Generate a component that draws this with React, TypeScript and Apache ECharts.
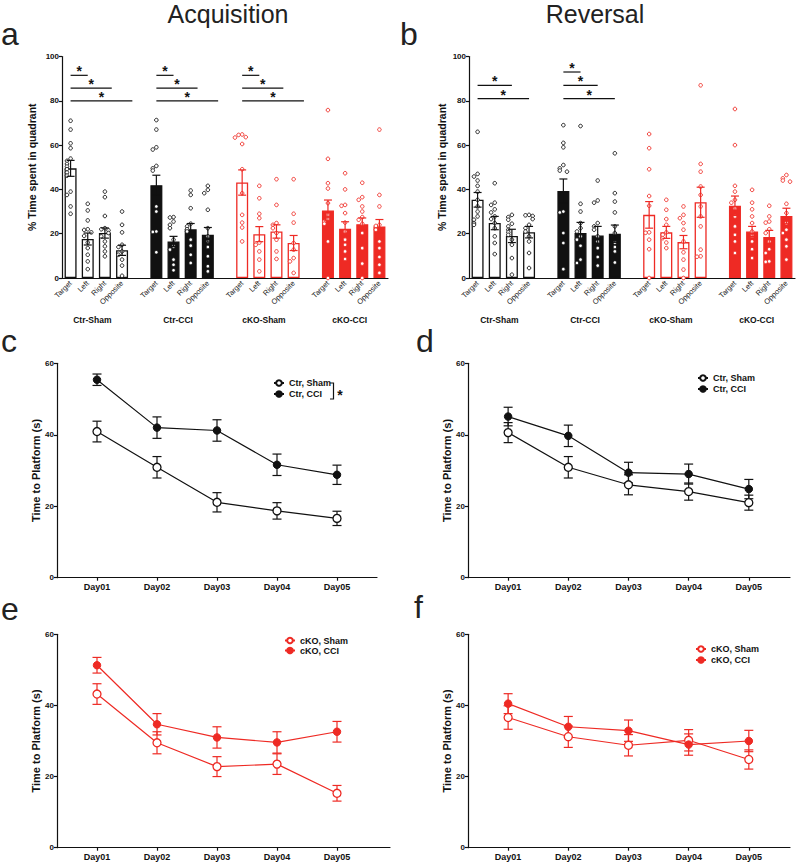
import React, { useEffect, useRef } from 'react';
import * as echarts from 'echarts';

const FONT = '"Liberation Sans", Arial, Helvetica, sans-serif';
const RED = '#ee2a24';
const BLACK = '#111111';

const quadrants = ['Target', 'Left', 'Right', 'Opposite'];
const groups = ['Ctr-Sham', 'Ctr-CCI', 'cKO-Sham', 'cKO-CCI'];
const days = ['Day01', 'Day02', 'Day03', 'Day04', 'Day05'];

// ---- a: Acquisition probe (% time in quadrant), rows = groups, cols = quadrants
const acqMean = [
  [49.5, 17.6, 20.3, 12.5],
  [41.9, 16.5, 22.0, 19.5],
  [43.1, 19.8, 21.0, 15.8],
  [30.5, 22.2, 24.3, 23.3],
];
const acqSem = [
  [3.6, 2.7, 2.3, 2.3],
  [4.5, 2.3, 2.6, 3.3],
  [5.7, 3.4, 3.0, 3.4],
  [4.7, 3.2, 2.8, 3.1],
];
const acqCtrSham = [
  [71, 67, 60.8, 58.6, 53.9, 52.9, 51.5, 50.3, 49.1, 47.6, 46.2, 39, 37.5, 32.3, 29],
  [33.5, 30.5, 26, 22, 21.7, 20.6, 19, 16, 13.5, 10.5, 7.5, 4],
  [39, 36.5, 28, 22.5, 22, 21.5, 20.3, 18.8, 16.5, 14.3, 12, 9.8],
  [30, 24, 20.6, 15, 14, 12, 10.5, 8.3, 5.6, 1],
];
const acqCtrCCI = [
  [71.3, 67, 59, 58, 50.6, 49.5, 48.5, 32.3, 30, 21, 20.8, 11.6],
  [27.5, 27.3, 25.5, 24, 22.5, 17.3, 14.3, 12.8, 8.3, 6, 3.5],
  [39.5, 37.5, 31.5, 24.5, 23.3, 22, 21, 17.3, 14.6, 10.5, 6.8],
  [41.6, 39.8, 38.3, 30.8, 22.5, 18.8, 16.5, 14, 9.8, 5.3, 3],
];
const acqCkoSham = [
  [64.8, 64.6, 63.6, 63.4, 60.5, 49.1, 38.3, 28.5, 25, 22.8, 16.5],
  [41.6, 36, 29, 27, 16, 15, 12, 8.3, 3],
  [44.6, 33, 24.8, 24, 22.5, 20.3, 17.3, 12, 8.6],
  [44.6, 29, 25, 15.8, 12.8, 9, 7.5, 2.3],
];
const acqCkoCCI = [
  [75.8, 53.8, 42.8, 40.4, 33.8, 28.5, 26.6, 25.5, 24.5, 16.5, 0],
  [47.3, 40, 33, 32.6, 29.3, 25, 21, 17.3, 15, 12, 8.6],
  [43, 36.5, 35.3, 32.3, 30, 27.5, 26.3, 24.5, 20.3, 13.5, 6.5, 0],
  [67, 37.5, 32.3, 24, 23.5, 21.8, 16.5, 13.5, 9.5, 6, 2.3],
];
const acqSig = [
  { group: 0, to: 1, y: 91.5 }, { group: 0, to: 2, y: 85.7 }, { group: 0, to: 3, y: 80 },
  { group: 1, to: 1, y: 91.5 }, { group: 1, to: 2, y: 85.7 }, { group: 1, to: 3, y: 80 },
  { group: 2, to: 1, y: 91.5 }, { group: 2, to: 2, y: 85.7 }, { group: 2, to: 3, y: 80 },
];

// ---- b: Reversal probe
const revMean = [
  [35.3, 24.8, 19.0, 20.7],
  [39.3, 20.3, 19.2, 20.0],
  [28.5, 20.6, 16.2, 34.2],
  [32.6, 21.0, 18.5, 28.0],
];
const revSem = [
  [3.3, 3.0, 3.0, 2.6],
  [5.4, 4.8, 4.1, 3.9],
  [6.0, 2.7, 3.0, 6.8],
  [4.4, 2.3, 3.0, 3.5],
];
const revCtrSham = [
  [66, 47, 45.8, 44, 41.6, 39, 35.3, 32.3, 30, 27.8, 26.3, 24.8, 24],
  [42.8, 34, 33, 31, 29.6, 27.8, 26.6, 24.8, 22.5, 18.8, 15.8, 10.8],
  [28.5, 27.5, 26.3, 24.5, 23.3, 21.8, 20.6, 19.5, 17.3, 15, 9, 1.5],
  [28.5, 28.3, 28, 26.6, 24, 22.5, 21, 18.8, 16.5, 11.3, 4.5],
];
const revCtrCCI = [
  [69, 61, 59, 51, 49.5, 48.5, 48, 30, 29.6, 20.3, 15.8, 4],
  [68.6, 33.5, 30, 24.8, 22.5, 21, 18.8, 17.3, 14.6, 8.3, 6.8],
  [44, 35, 34, 24.8, 23.3, 21.8, 18.8, 16.5, 13.5, 9.5, 5.6],
  [56.3, 38.3, 34.5, 29.6, 23.3, 20.3, 16, 14, 12, 7],
];
const revCkoSham = [
  [65, 58.6, 49.1, 37, 32.6, 20.6, 20.4, 17.3, 13, 0],
  [35.3, 30.8, 26.6, 24, 20.6, 19.5, 18, 16, 13.5],
  [32.3, 28.5, 27, 24.8, 21.8, 16.5, 11.6, 8.3, 3.8, 0],
  [87, 51.5, 48, 41.3, 37.5, 32.3, 27.8, 23.3, 12.8, 9.8, 9.6],
];
const revCkoCCI = [
  [76.3, 60, 41.6, 39, 35.3, 34, 31.5, 27.8, 23.3, 19.5, 16.5, 11.3],
  [39.8, 34, 31, 27.8, 24.8, 21, 19, 16.5, 13, 9],
  [32.6, 27.8, 25.5, 25, 22, 20.3, 16.5, 13, 11.3, 7.5, 7.3],
  [46.5, 45, 44, 43.5, 33.5, 29.3, 24.8, 21.8, 20.3, 17.3, 14.3, 8.3],
];
const revSig = [
  { group: 0, to: 2, y: 87 }, { group: 0, to: 3, y: 81 },
  { group: 1, to: 1, y: 93 }, { group: 1, to: 2, y: 87 }, { group: 1, to: 3, y: 81 },
];

// ---- c-f: Time to platform (s)
const acqCtrShamLat = [40.9, 30.9, 21.1, 18.7, 16.6];
const acqCtrShamErr = [2.9, 3.0, 2.7, 2.3, 2.0];
const acqCtrCCILat = [55.4, 42.0, 41.2, 31.6, 28.8];
const acqCtrCCIErr = [1.6, 3.0, 3.0, 3.0, 2.7];
const revCtrShamLat = [40.6, 30.9, 26.0, 24.1, 21.0];
const revCtrShamErr = [2.8, 3.0, 2.8, 2.4, 2.1];
const revCtrCCILat = [45.1, 39.7, 29.4, 29.0, 24.8];
const revCtrCCIErr = [2.6, 3.0, 2.9, 2.8, 2.7];
const acqCkoShamLat = [43.2, 29.5, 22.8, 23.5, 15.3];
const acqCkoShamErr = [2.9, 3.1, 2.8, 2.9, 2.2];
const acqCkoCCILat = [51.3, 34.7, 31.0, 29.6, 32.6];
const acqCkoCCIErr = [2.2, 3.0, 3.0, 3.0, 2.9];
const revCkoShamLat = [36.6, 31.2, 28.8, 30.2, 24.8];
const revCkoShamErr = [3.3, 3.0, 3.0, 3.0, 2.7];
const revCkoCCILat = [40.5, 34.0, 32.9, 29.0, 30.0];
const revCkoCCIErr = [2.8, 2.9, 3.0, 3.0, 3.0];

// ---------------- layout / styles ----------------
const groupFill = ['#ffffff', BLACK, '#ffffff', RED];
const groupStroke = [BLACK, BLACK, RED, RED];

const cats: string[] = [];
groups.forEach((_, g) => {
  quadrants.forEach((q) => cats.push(q));
  if (g < groups.length - 1) cats.push(' '.repeat(g + 1));
});

const GRIDS = [
  { left: 62, top: 56.5, width: 326, height: 221.5 },
  { left: 469, top: 56.5, width: 326, height: 221.5 },
  { left: 57, top: 363.3, width: 320, height: 214.4 },
  { left: 468, top: 363.3, width: 322, height: 214.4 },
  { left: 57, top: 634.3, width: 333, height: 213.4 },
  { left: 468, top: 634.3, width: 322, height: 213.4 },
];

const axisLineStyle = { color: BLACK, width: 1.2 };
const tickLabel = { color: BLACK, fontSize: 8, fontWeight: 'bold', fontFamily: FONT, margin: 3 };

function jitter(vals: number[]) {
  const pattern = [0, -3.6, 3.6, -7.2, 7.2];
  return vals.map((v, i) => {
    let n = 0;
    for (let j = 0; j < i; j++) if (Math.abs(vals[j] - v) < 1.7) n++;
    return pattern[n % pattern.length];
  });
}

function barPanel(idx: number, means: number[][], sems: number[][], dots: number[][][], sigs: any[], ext: number[], nameGap: number) {
  const xAxis = {
    type: 'category', gridIndex: idx, data: cats,
    axisLine: { lineStyle: axisLineStyle }, axisTick: { show: false },
    axisLabel: { interval: 0, rotate: 45, fontSize: 7.5, color: '#222', fontFamily: FONT, margin: 4 },
    splitLine: { show: false },
  };
  const yAxis = {
    type: 'value', gridIndex: idx, min: 0, max: 100, interval: 20,
    name: '% Time spent in quadrant', nameLocation: 'middle', nameGap,
    nameTextStyle: { fontSize: 10.5, fontWeight: 'bold', color: BLACK, fontFamily: FONT },
    axisLine: { show: true, lineStyle: axisLineStyle },
    axisTick: { show: true, length: 3, lineStyle: axisLineStyle },
    axisLabel: tickLabel, splitLine: { show: false },
  };
  const barData = cats.map((_, i) => {
    const g = Math.floor(i / 5), q = i % 5;
    if (q === 4) return '-';
    return { value: means[g][q], itemStyle: { color: groupFill[g], borderColor: groupStroke[g], borderWidth: 1.3 } };
  });
  const dotData: number[][] = [];
  dots.forEach((grp, g) => grp.forEach((vals, q) => {
    const offs = jitter(vals);
    vals.forEach((v, k) => dotData.push([g * 5 + q, v, offs[k], g]));
  }));
  const errData: number[][] = [];
  means.forEach((row, g) => row.forEach((m, q) => errData.push([g * 5 + q, m, sems[g][q], g])));
  const sigData = sigs.map((s) => [s.group * 5, s.y, s.group * 5 + s.to, ext[s.to]]);
  const series = [
    { type: 'bar', name: 'bars' + idx, xAxisIndex: idx, yAxisIndex: idx, barWidth: 12, data: barData, z: 2 },
    {
      type: 'custom', name: 'dots' + idx, xAxisIndex: idx, yAxisIndex: idx, data: dotData, z: 3,
      encode: { x: 0, y: 1 },
      renderItem: (p: any, api: any) => {
        const c = api.coord([api.value(0), api.value(1)]);
        const g = api.value(3);
        return { type: 'circle', shape: { cx: c[0] + api.value(2), cy: c[1], r: 1.8 }, style: { fill: '#fff', stroke: groupStroke[g], lineWidth: 0.9 } };
      },
    },
    {
      type: 'custom', name: 'err' + idx, xAxisIndex: idx, yAxisIndex: idx, data: errData, z: 4,
      encode: { x: 0, y: 1 },
      renderItem: (p: any, api: any) => {
        const x = api.value(0), m = api.value(1), s = api.value(2), g = api.value(3);
        const t = api.coord([x, m + s]), b = api.coord([x, m - s]);
        const st = { stroke: groupStroke[g], lineWidth: 1.2 };
        return {
          type: 'group', children: [
            { type: 'line', shape: { x1: t[0], y1: t[1], x2: b[0], y2: b[1] }, style: st },
            { type: 'line', shape: { x1: t[0] - 4, y1: t[1], x2: t[0] + 4, y2: t[1] }, style: st },
            { type: 'line', shape: { x1: b[0] - 4, y1: b[1], x2: b[0] + 4, y2: b[1] }, style: st },
          ],
        };
      },
    },
    {
      type: 'custom', name: 'sig' + idx, xAxisIndex: idx, yAxisIndex: idx, data: sigData, z: 4,
      encode: { x: 0, y: 1 },
      renderItem: (p: any, api: any) => {
        const y = api.value(1);
        const w = api.size([1, 0])[0];
        const p1 = api.coord([api.value(0), y]);
        const p2 = api.coord([api.value(2), y]);
        const x1 = p1[0], x2 = p2[0] + api.value(3) * w;
        return {
          type: 'group', children: [
            { type: 'line', shape: { x1, y1: p1[1], x2, y2: p1[1] }, style: { stroke: BLACK, lineWidth: 1.2 } },
            { type: 'text', x: (x1 + x2) / 2, y: p1[1] - 4, style: { text: '*', fontSize: 14, fontWeight: 'bold', fontFamily: FONT, fill: BLACK, align: 'center', verticalAlign: 'middle' } },
          ],
        };
      },
    },
  ];
  return { xAxis, yAxis, series };
}

function linePanel(idx: number, names: string[], color: string, sham: number[], shamErr: number[], cci: number[], cciErr: number[], xMax: number, nameGap: number) {
  const xAxis = {
    type: 'value', gridIndex: idx, min: 1 - 40 / 60, max: xMax,
    axisLine: { lineStyle: axisLineStyle },
    axisTick: { show: true, length: 3, lineStyle: axisLineStyle, customValues: [1, 2, 3, 4, 5] },
    axisLabel: { ...tickLabel, fontSize: 9, margin: 5, customValues: [1, 2, 3, 4, 5], formatter: (v: number) => days[Math.round(v) - 1] },
    splitLine: { show: false },
  };
  const yAxis = {
    type: 'value', gridIndex: idx, min: 0, max: 60, interval: 20,
    name: 'Time to Platform (s)', nameLocation: 'middle', nameGap,
    nameTextStyle: { fontSize: 11, fontWeight: 'bold', color: BLACK, fontFamily: FONT },
    axisLine: { show: true, lineStyle: axisLineStyle },
    axisTick: { show: true, length: 3, lineStyle: axisLineStyle },
    axisLabel: tickLabel, splitLine: { show: false },
  };
  const errSeries = (vals: number[], errs: number[], key: string) => ({
    type: 'custom', name: key, xAxisIndex: idx, yAxisIndex: idx, z: 1,
    data: vals.map((v, i) => [i + 1, v, errs[i]]), encode: { x: 0, y: 1 },
    renderItem: (p: any, api: any) => {
      const x = api.value(0), m = api.value(1), s = api.value(2);
      const t = api.coord([x, m + s]), b = api.coord([x, m - s]);
      const st = { stroke: color, lineWidth: 1.2 };
      return {
        type: 'group', children: [
          { type: 'line', shape: { x1: t[0], y1: t[1], x2: b[0], y2: b[1] }, style: st },
          { type: 'line', shape: { x1: t[0] - 4.5, y1: t[1], x2: t[0] + 4.5, y2: t[1] }, style: st },
          { type: 'line', shape: { x1: b[0] - 4.5, y1: b[1], x2: b[0] + 4.5, y2: b[1] }, style: st },
        ],
      };
    },
  });
  const series = [
    errSeries(sham, shamErr, 'errS' + idx),
    errSeries(cci, cciErr, 'errC' + idx),
    {
      type: 'line', name: names[0], xAxisIndex: idx, yAxisIndex: idx, z: 3,
      data: sham.map((v, i) => [i + 1, v]), symbol: 'circle', symbolSize: 8,
      lineStyle: { color, width: 1.2 }, itemStyle: { color: '#ffffff', borderColor: color, borderWidth: 1.3 },
    },
    {
      type: 'line', name: names[1], xAxisIndex: idx, yAxisIndex: idx, z: 4,
      data: cci.map((v, i) => [i + 1, v]), symbol: 'circle', symbolSize: 7.5,
      lineStyle: { color, width: 1.2 }, itemStyle: { color, borderColor: color, borderWidth: 1 },
    },
  ];
  return { xAxis, yAxis, series };
}

function legendAt(left: number, top: number, names: string[], gap: number) {
  return {
    left, top, orient: 'vertical', padding: 0, itemGap: gap, itemWidth: 10, itemHeight: 7,
    data: names, selectedMode: false,
    textStyle: { fontSize: 9, fontWeight: 'bold', color: BLACK, fontFamily: FONT },
  };
}

function txt(x: number, y: number, text: string, fontSize: number, align = 'left', weight = 'normal', fill = '#222') {
  return { type: 'text', x, y, silent: true, style: { text, fontSize, fontWeight: weight, fontFamily: FONT, fill, align, verticalAlign: 'middle' } };
}

export default function App() {
  const ref = useRef<HTMLDivElement>(null);
  useEffect(() => {
    if (!ref.current) return;
    const chart = echarts.init(ref.current, undefined, { renderer: 'svg' });
    const pa = barPanel(0, acqMean, acqSem, [acqCtrSham, acqCtrCCI, acqCkoSham, acqCkoCCI], acqSig, [0, 0, 0.4, 0.6], 25);
    const pb = barPanel(1, revMean, revSem, [revCtrSham, revCtrCCI, revCkoSham, revCkoCCI], revSig, [0, 0, 0, 0], 22);
    const pc = linePanel(2, ['Ctr, Sham', 'Ctr, CCI'], BLACK, acqCtrShamLat, acqCtrShamErr, acqCtrCCILat, acqCtrCCIErr, 1 + 280 / 60, 13);
    const pd = linePanel(3, ['Ctr, Sham', 'Ctr, CCI'], BLACK, revCtrShamLat, revCtrShamErr, revCtrCCILat, revCtrCCIErr, 1 + 282 / 60.2, 13);
    const pe = linePanel(4, ['cKO, Sham', 'cKO, CCI'], RED, acqCkoShamLat, acqCkoShamErr, acqCkoCCILat, acqCkoCCIErr, 1 + 293 / 60, 13);
    const pf = linePanel(5, ['cKO, Sham', 'cKO, CCI'], RED, revCkoShamLat, revCkoShamErr, revCkoCCILat, revCkoCCIErr, 1 + 282 / 60.2, 13);
    const panels = [pa, pb, pc, pd, pe, pf];

    const graphics: any[] = [
      txt(228, 14, 'Acquisition', 25, 'center'),
      txt(595, 14, 'Reversal', 25, 'center'),
      txt(1, 34, 'a', 32), txt(400, 34, 'b', 32),
      txt(1, 341, 'c', 32), txt(416, 341, 'd', 32),
      txt(1, 609, 'e', 32), txt(414, 607, 'f', 32),
      {
        type: 'polyline', silent: true,
        shape: { points: [[330, 383], [333.5, 383], [333.5, 399], [330, 399]] },
        style: { stroke: BLACK, lineWidth: 1.2, fill: 'none' },
      },
      txt(340, 395, '*', 14, 'center', 'bold', BLACK),
    ];
    [0, 1].forEach((gi) => {
      const g = GRIDS[gi];
      const cw = g.width / cats.length;
      groups.forEach((name, k) => {
        graphics.push(txt(g.left + (k * 5 + 2) * cw - 4, 320, name, 8.5, 'center', 'bold', BLACK));
      });
    });

    chart.setOption({
      animation: false,
      backgroundColor: '#ffffff',
      textStyle: { fontFamily: FONT },
      grid: GRIDS.map((g) => ({ ...g, containLabel: false, outerBoundsMode: 'none' })),
      xAxis: panels.map((p) => p.xAxis),
      yAxis: panels.map((p) => p.yAxis),
      series: panels.flatMap((p) => p.series),
      legend: [
        legendAt(273, 378.5, ['Ctr, Sham', 'Ctr, CCI'], 2),
        legendAt(697, 373.5, ['Ctr, Sham', 'Ctr, CCI'], 2),
        legendAt(284, 636, ['cKO, Sham', 'cKO, CCI'], 1),
        legendAt(695, 644.5, ['cKO, Sham', 'cKO, CCI'], 2),
      ],
      graphic: graphics,
    });
    return () => chart.dispose();
  }, []);
  return <div ref={ref} style={{ position: 'fixed', left: 0, top: 0, width: 800, height: 863, background: '#fff' }} />;
}
